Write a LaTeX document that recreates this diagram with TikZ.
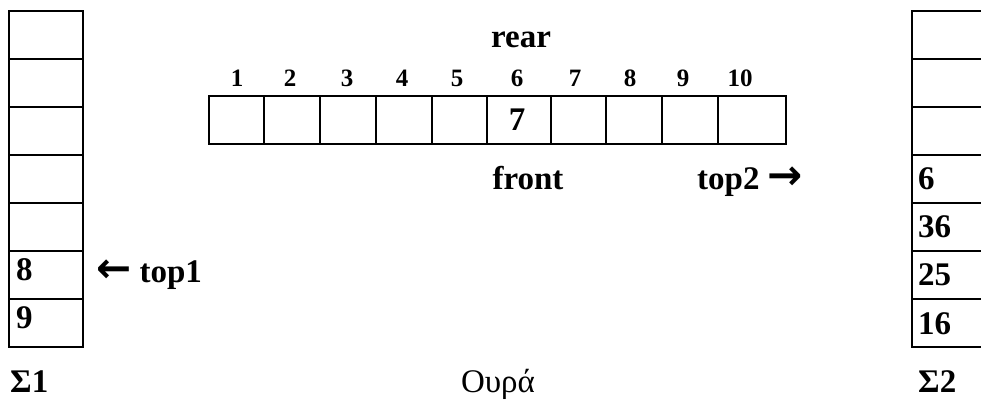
\documentclass[tikz,border=0pt]{standalone}
\usepackage{fontspec}
\setmainfont{Liberation Serif}
\newfontfamily\arrowfont{DejaVu Sans}
\begin{document}
\begin{tikzpicture}[x=1pt,y=-1pt,
  cellbox/.style={draw, line width=2pt, minimum height=48pt, inner sep=0pt, anchor=north west},
  big/.style={font=\bfseries\fontsize{33}{38}\selectfont, inner sep=0pt},
  small/.style={font=\bfseries\fontsize{25}{29}\selectfont, inner sep=0pt, anchor=base},
  greek/.style={font=\fontsize{33}{38}\selectfont, inner sep=0pt}]
\newcommand\myarrow[1]{{\arrowfont\bfseries\fontsize{42}{42}\selectfont #1}}
\useasboundingbox (0,0) rectangle (981,419);
% left stack
\foreach \i in {1,...,7}
  \node[cellbox, minimum width=74pt] (L\i) at (8,{10+48*(\i-1)}) {};
\node[big, anchor=base west] (l8) at (16,280) {8};
\node[big, anchor=base west] (l9) at (16,328) {9};
\node[big, anchor=base west] (top1) at (96,283) {\myarrow{←} top1};
% right stack
\foreach \i in {1,...,7}
  \node[cellbox, minimum width=100pt] (R\i) at (911,{10+48*(\i-1)}) {};
\node[big, anchor=base west] (r6) at (918,190) {6};
\node[big, anchor=base west] (r36) at (918,238) {36};
\node[big, anchor=base west] (r25) at (918,286) {25};
\node[big, anchor=base west] (r16) at (918,334) {16};
% queue
\foreach \a/\b [count=\i] in {208/263,263/319,319/375,375/431,431/486,486/550,550/605,605/661,661/717,717/785}
  \node[cellbox, minimum width={(\b-\a)*1pt}] (Q\i) at (\a,95) {};
\foreach \x/\t [count=\i] in {237/1,290/2,347/3,402/4,457/5,517/6,575/7,630/8,683/9,740/10}
  \node[small] (idx\i) at (\x,87) {\t};
\node[big, anchor=base] (rear) at (521,48) {rear};
\node[big, anchor=base] (q7) at (517,131) {7};
\node[big, anchor=base] (front) at (528,190) {front};
\node[big, anchor=base west] (top2) at (697,190) {top2 \myarrow{→}};
% captions
\node[big, anchor=base west] (S1) at (10,392) {Σ1};
\node[greek, anchor=base] (Q) at (498,392) {Ουρά};
\node[big, anchor=base west] (S2) at (918,392) {Σ2};
\end{tikzpicture}
\end{document}
